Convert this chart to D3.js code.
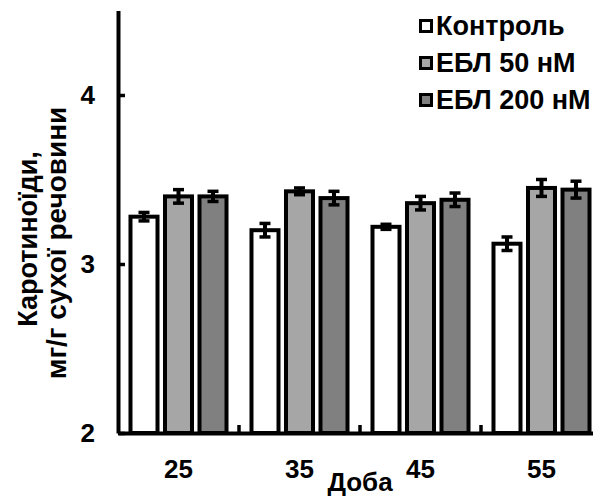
<!DOCTYPE html>
<html>
<head>
<meta charset="utf-8">
<script src="https://cdn.jsdelivr.net/npm/d3@7"></script>
<style>
  html, body { margin: 0; padding: 0; background: #fff; }
  svg { display: block; font-family: "Liberation Sans", Arial, sans-serif; font-weight: bold; }
</style>
</head>
<body>
<svg id="chart" width="593" height="497"></svg>
<script>
// Carotenoid content by day for control and two EBL concentrations
const days = ["25", "35", "45", "55"];
const seriesNames = ["Контроль", "ЕБЛ 50 нМ", "ЕБЛ 200 нМ"];
const seriesColors = ["#ffffff", "#a6a6a6", "#808080"];
const control = [3.28, 3.20, 3.22, 3.12];
const ebl50 = [3.40, 3.43, 3.36, 3.45];
const ebl200 = [3.40, 3.39, 3.38, 3.44];
const controlErr = [0.025, 0.04, 0.015, 0.04];
const ebl50Err = [0.04, 0.02, 0.04, 0.05];
const ebl200Err = [0.03, 0.04, 0.04, 0.05];
const yTicks = [2, 3, 4];

const values = [control, ebl50, ebl200];
const errors = [controlErr, ebl50Err, ebl200Err];

const svg = d3.select("#chart");
const left = 118, bottom = 433, groupW = 121;
const fontFamily = "Liberation Sans, Arial, sans-serif";

const x0 = d3.scaleBand().domain(days).range([left, left + groupW * days.length]).padding(0);
const x1 = d3.scaleBand().domain(d3.range(seriesNames.length)).range([0, x0.bandwidth()])
  .paddingInner(0.217).paddingOuter(0.362);
const y = d3.scaleLinear().domain([2, 4.5]).range([bottom, bottom - 2.5 * 169]);

// bars
const groups = svg.append("g").selectAll("g").data(days).join("g")
  .attr("transform", d => `translate(${x0(d)},0)`);

groups.each(function(day, di) {
  const g = d3.select(this);
  seriesNames.forEach((name, si) => {
    const v = values[si][di], e = errors[si][di];
    const cx = x1(si) + x1.bandwidth() / 2;
    g.append("rect")
      .attr("x", x1(si)).attr("width", x1.bandwidth())
      .attr("y", y(v)).attr("height", y(2) - y(v))
      .attr("fill", seriesColors[si]).attr("stroke", "#000").attr("stroke-width", 4);
    // error bar
    g.append("line").attr("x1", cx).attr("x2", cx)
      .attr("y1", y(v + e)).attr("y2", y(v - e))
      .attr("stroke", "#000").attr("stroke-width", 4);
    [v + e, v - e].forEach(t => {
      g.append("line").attr("x1", cx - 5.5).attr("x2", cx + 5.5)
        .attr("y1", y(t)).attr("y2", y(t))
        .attr("stroke", "#000").attr("stroke-width", 3.5);
    });
  });
});

// y axis
const yAxis = d3.axisLeft(y).tickValues(yTicks).tickFormat(d3.format("d"))
  .tickSizeInner(-7).tickSizeOuter(0).tickPadding(23);
const gy = svg.append("g").attr("transform", `translate(${left},0)`).call(yAxis);
gy.select(".domain").attr("stroke-width", 4);
gy.selectAll(".tick line").attr("stroke-width", 3.5);
gy.selectAll(".tick text").attr("font-size", 26).attr("font-weight", "bold")
  .attr("font-family", fontFamily).attr("fill", "#000");

// x axis
const xAxis = d3.axisBottom(x0).tickSize(0).tickPadding(27);
const gx = svg.append("g").attr("transform", `translate(0,${bottom})`).call(xAxis);
gx.select(".domain").attr("stroke-width", 4);
gx.selectAll(".tick text").attr("font-size", 26).attr("font-weight", "bold")
  .attr("font-family", fontFamily).attr("fill", "#000");
// group separator ticks
gx.selectAll(".sep").data(days.slice(1)).join("line").attr("class", "sep")
  .attr("x1", d => x0(d)).attr("x2", d => x0(d))
  .attr("y1", 0).attr("y2", -8).attr("stroke", "#000").attr("stroke-width", 3.5);

// axis titles
svg.append("text").attr("x", 360).attr("y", 491).attr("text-anchor", "middle")
  .attr("font-size", 26).text("Доба");

const yTitle = svg.append("g").attr("transform", "translate(0,240) rotate(-90)");
yTitle.append("text").attr("x", 1).attr("y", 37).attr("text-anchor", "middle")
  .attr("font-size", 27).text("Каротиноїди,");
yTitle.append("text").attr("x", -3).attr("y", 66).attr("text-anchor", "middle")
  .attr("font-size", 28).text("мг/г сухої речовини");

// legend
const legend = svg.append("g").attr("transform", "translate(419,19)");
seriesNames.forEach((name, i) => {
  const row = legend.append("g").attr("transform", `translate(0,${i * 37})`);
  row.append("rect").attr("x", 1.5).attr("y", 1.5).attr("width", 11).attr("height", 11)
    .attr("fill", seriesColors[i]).attr("stroke", "#000").attr("stroke-width", 3);
  row.append("text").attr("x", 17).attr("y", 16).attr("font-size", 27).text(name);
});
</script>
</body>
</html>
